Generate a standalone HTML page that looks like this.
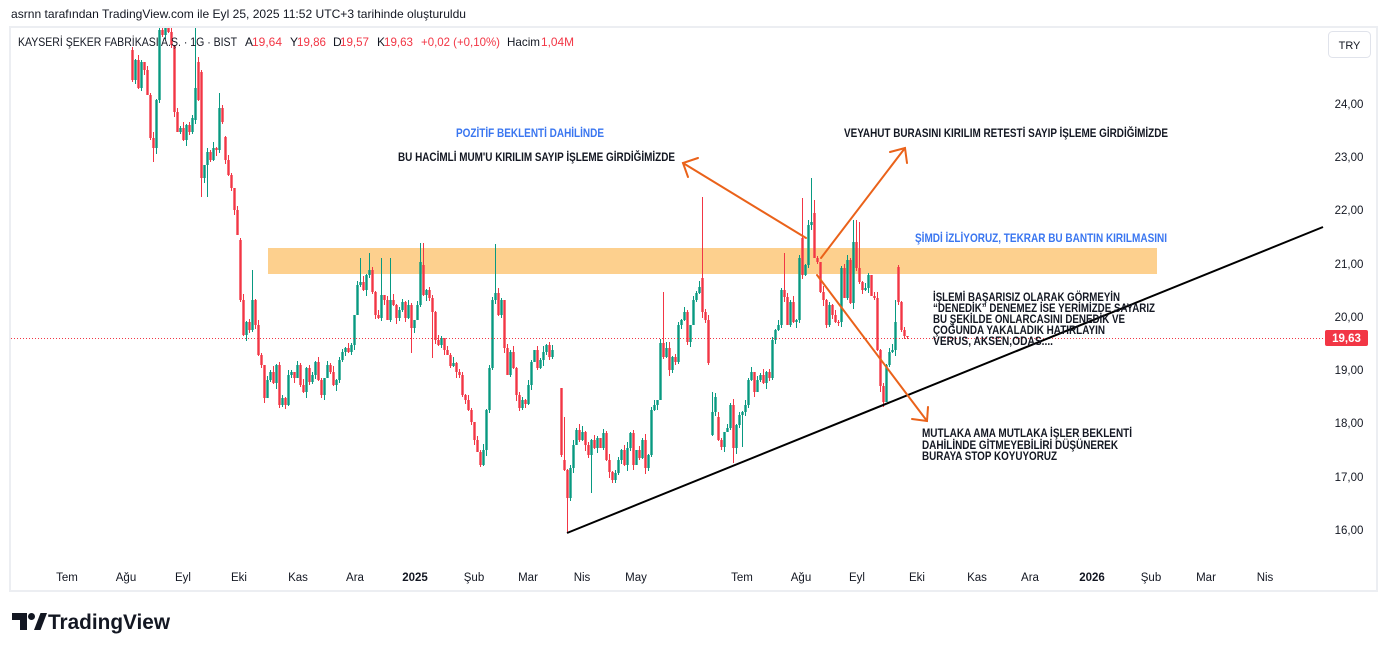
<!DOCTYPE html>
<html><head><meta charset="utf-8">
<style>html,body{margin:0;padding:0;background:#fff;overflow:hidden}svg{display:block}</style></head>
<body>
<svg width="1386" height="651" viewBox="0 0 1386 651" xmlns="http://www.w3.org/2000/svg" font-family="'Liberation Sans', sans-serif">
<defs><clipPath id="pane"><rect x="11" y="28" width="1307" height="537"/></clipPath></defs>
<rect width="1386" height="651" fill="#fff"/>
<text x="11" y="18" font-size="12" fill="#131722" textLength="455" lengthAdjust="spacingAndGlyphs">asrnn tarafından TradingView.com ile Eyl 25, 2025 11:52 UTC+3 tarihinde oluşturuldu</text>
<rect x="10" y="27" width="1367" height="564" fill="#fff" stroke="#eceef2" stroke-width="2"/>

<!-- band -->
<rect x="268" y="248" width="889" height="26" fill="#fdd08e"/>

<!-- candles -->
<g clip-path="url(#pane)" fill="none">
<path shape-rendering="crispEdges" stroke="#f23645" stroke-width="1" d="M132.5 47V82M138.5 55V89M144.5 62V75M147.5 66V95M150.5 93V140M153.5 132V162M162.5 20V37M168.5 20V33M171.5 20V48M174.5 45V117M177.5 108V132M183.5 122V141M189.5 122V135M198.5 57V101M201.5 70V197M210.5 150V162M216.5 147V156M222.5 105V124M225.5 136V164M228.5 155V176M231.5 173V191M234.5 188V215M237.5 206V235M240.5 238V302M243.5 294V336M249.5 319V333M255.5 299V329M258.5 320V356M261.5 353V368M264.5 365V403M273.5 366V384M279.5 362V408M285.5 397V409M294.5 372V383M300.5 363V387M303.5 379V393M309.5 365V385M318.5 357V381M321.5 378V398M330.5 363V374M333.5 366V386M348.5 343V353M363.5 276V291M372.5 267V294M375.5 291V319M378.5 310V319M384.5 295V305M387.5 296V320M393.5 294V306M396.5 304V324M405.5 301V322M411.5 303V353M423.5 243V296M429.5 287V301M432.5 295V358M435.5 311V344M438.5 335V346M444.5 338V355M447.5 346V355M450.5 353V368M456.5 362V378M459.5 369V378M462.5 372V397M465.5 394V404M468.5 395V411M471.5 408V425M474.5 422V445M477.5 436V452M480.5 450V467M498.5 288V316M504.5 300V353M507.5 344V375M513.5 346V369M516.5 367V401M519.5 392V411M525.5 399V408M537.5 346V370M549.5 342V360M561.5 388V457M564.5 417V471M567.5 469V533M579.5 424V442M585.5 431V451M588.5 442V458M594.5 435V449M600.5 438V448M606.5 431V461M609.5 454V478M612.5 471V483M624.5 445V466M633.5 430V470M639.5 446V460M645.5 434V474M663.5 292V359M669.5 342V376M675.5 354V365M687.5 310V345M702.5 197V318M705.5 309V323M708.5 315V365M718.5 412V441M721.5 438V450M733.5 399V463M754.5 372V397M763.5 369V384M769.5 369V381M784.5 253V302M787.5 293V325M793.5 296V323M802.5 198V279M814.5 200V258M817.5 256V264M820.5 262V293M823.5 286V306M826.5 299V328M832.5 304V319M835.5 310V323M838.5 320V326M844.5 264V298M850.5 258V304M856.5 220V271M859.5 222V284M862.5 281V294M871.5 275V296M874.5 292V300M877.5 292V351M880.5 349V392M883.5 383V407M898.5 265V305M901.5 301V332M904.5 327V339M907.5 336V339"/>
<path stroke="#f23645" stroke-width="2.4" d="M132.5 50V80M138.5 60V88M144.5 62V70M147.5 70V95M150.5 95V138M153.5 138V148M162.5 30V35M168.5 28V32M171.5 32V45M174.5 45V112M177.5 112V132M183.5 128V140M189.5 125V132M198.5 62V100M201.5 72V178M210.5 152V160M216.5 148V150M222.5 108V122M225.5 137V160M228.5 160V175M231.5 175V188M234.5 188V210M237.5 210V235M240.5 240V300M243.5 300V335M249.5 322V330M255.5 300V325M258.5 325V355M261.5 355V365M264.5 365V398M273.5 372V383M279.5 365V405M285.5 398V405M294.5 372V378M300.5 365V385M303.5 385V392M309.5 368V382M318.5 362V380M321.5 380V395M330.5 365V372M333.5 372V385M348.5 348V352M363.5 282V290M372.5 270V292M375.5 292V315M378.5 315V318M384.5 295V300M387.5 300V320M393.5 300V305M396.5 305V318M405.5 302V318M411.5 305V328M423.5 265V295M429.5 290V298M432.5 298V312M435.5 312V340M438.5 340V345M444.5 338V350M447.5 350V355M450.5 355V366M456.5 363V372M459.5 372V375M462.5 375V395M465.5 395V400M468.5 400V410M471.5 410V422M474.5 422V440M477.5 440V452M480.5 452V465M498.5 293V315M504.5 300V348M507.5 348V375M513.5 352V368M516.5 368V395M519.5 395V408M525.5 400V404M537.5 350V368M549.5 345V357M561.5 388V455M564.5 460V470M567.5 470V498M579.5 430V440M585.5 432V445M588.5 445V455M594.5 440V448M600.5 438V448M606.5 433V460M609.5 460V472M612.5 472V480M624.5 450V465M633.5 433V465M639.5 450V458M645.5 440V468M663.5 343V357M669.5 348V370M675.5 357V362M687.5 312V342M702.5 278V312M705.5 312V320M708.5 320V363M718.5 417V440M721.5 440V447M733.5 405V448M754.5 372V392M763.5 375V383M769.5 372V378M784.5 290V297M787.5 297V325M793.5 302V322M802.5 238V275M814.5 213V258M817.5 258V262M820.5 262V292M823.5 292V300M826.5 300V325M832.5 305V315M835.5 315V322M838.5 322V323M844.5 268V298M850.5 260V303M856.5 242V268M859.5 268V282M862.5 282V290M871.5 275V296M874.5 296V298M877.5 298V350M880.5 350V386M883.5 386V402M898.5 267V302M901.5 302V330M904.5 330V336M907.5 336V337"/>
<path shape-rendering="crispEdges" stroke="#089981" stroke-width="1" d="M135.5 59V84M141.5 60V91M156.5 99V154M159.5 20V103M165.5 20V39M180.5 126V134M186.5 124V146M192.5 115V134M195.5 20V124M204.5 165V183M207.5 148V197M213.5 142V161M219.5 93V153M246.5 321V341M252.5 270V332M267.5 376V398M270.5 370V382M276.5 364V389M282.5 395V407M288.5 370V406M291.5 370V378M297.5 361V378M306.5 367V398M312.5 372V384M315.5 361V379M324.5 378V400M327.5 361V378M336.5 379V391M339.5 357V383M342.5 349V362M345.5 347V356M351.5 343V355M354.5 315V350M357.5 281V315M360.5 258V287M366.5 274V296M369.5 253V278M381.5 258V321M390.5 258V322M399.5 307V321M402.5 299V312M408.5 300V319M414.5 320V333M417.5 301V320M420.5 243V307M426.5 289V301M441.5 336V348M453.5 357V367M483.5 444V466M486.5 409V456M489.5 365V413M492.5 297V370M495.5 244V304M501.5 298V318M510.5 350V377M522.5 397V410M528.5 380V405M531.5 360V390M534.5 350V362M540.5 358V369M543.5 346V366M546.5 344V355M552.5 345V359M570.5 465V501M573.5 440V473M576.5 428V445M582.5 426V441M591.5 439V493M597.5 436V453M603.5 429V450M615.5 470V483M618.5 457V475M621.5 449V464M627.5 442V471M630.5 432V451M636.5 450V465M642.5 438V459M648.5 454V471M651.5 407V457M654.5 400V411M657.5 400V410M660.5 339V400M666.5 342V358M672.5 356V373M678.5 322V364M681.5 319V329M684.5 307V321M690.5 325V347M693.5 296V325M696.5 291V302M699.5 281V294M712.5 392V436M715.5 393V416M724.5 432V452M727.5 424V432M730.5 403V430M736.5 424V454M739.5 412V428M742.5 411V447M745.5 400V416M748.5 378V408M751.5 367V381M757.5 376V392M760.5 373V382M766.5 371V389M772.5 337V380M775.5 329V344M778.5 320V331M781.5 288V328M790.5 300V327M796.5 319V328M799.5 255V323M805.5 264V276M808.5 220V268M811.5 178V230M829.5 302V327M841.5 266V327M847.5 255V300M853.5 220V309M865.5 283V291M868.5 273V293M886.5 364V402M889.5 348V367M892.5 344V353M895.5 300V356"/>
<path stroke="#089981" stroke-width="2.4" d="M135.5 60V80M141.5 62V88M156.5 100V148M159.5 30V100M165.5 28V35M180.5 128V132M186.5 125V140M192.5 118V132M195.5 88V120M204.5 165V178M207.5 152V165M213.5 148V160M219.5 108V150M246.5 322V335M252.5 300V330M267.5 380V398M270.5 372V380M276.5 365V383M282.5 398V405M288.5 375V405M291.5 372V375M297.5 365V378M306.5 368V392M312.5 375V382M315.5 362V375M324.5 378V395M327.5 365V378M336.5 380V385M339.5 360V380M342.5 352V360M345.5 348V352M351.5 345V352M354.5 315V345M357.5 285V315M360.5 282V285M366.5 275V290M369.5 270V275M381.5 295V318M390.5 300V320M399.5 310V318M402.5 302V310M408.5 305V318M414.5 320V328M417.5 305V320M420.5 262V305M426.5 290V295M441.5 338V345M453.5 363V366M483.5 450V465M486.5 410V450M489.5 368V410M492.5 300V368M495.5 293V300M501.5 300V315M510.5 352V375M522.5 400V408M528.5 385V404M531.5 362V385M534.5 350V362M540.5 360V368M543.5 352V360M546.5 345V352M552.5 350V357M570.5 468V498M573.5 445V468M576.5 430V445M582.5 432V440M591.5 440V455M597.5 438V448M603.5 433V448M615.5 473V480M618.5 460V473M621.5 450V460M627.5 448V465M630.5 433V448M636.5 450V465M642.5 440V458M648.5 455V468M651.5 410V455M654.5 405V410M657.5 400V405M660.5 343V400M666.5 348V357M672.5 357V370M678.5 325V362M681.5 320V325M684.5 312V320M690.5 325V342M693.5 300V325M696.5 293V300M699.5 287V293M712.5 412V435M715.5 397V412M724.5 432V447M727.5 428V432M730.5 405V428M736.5 425V448M739.5 415V425M742.5 412V415M745.5 405V412M748.5 380V405M751.5 372V380M757.5 380V392M760.5 375V380M766.5 372V383M772.5 340V378M775.5 330V340M778.5 325V330M781.5 290V325M790.5 302V325M796.5 320V322M799.5 258V320M805.5 265V275M808.5 225V265M811.5 222V225M829.5 305V325M841.5 268V322M847.5 260V298M853.5 242V303M865.5 288V290M868.5 275V288M886.5 365V402M889.5 352V365M892.5 350V352M895.5 322V350"/>
</g>

<!-- last price dotted line -->
<line x1="11" y1="338.5" x2="1325" y2="338.5" stroke="#f23645" stroke-width="1" stroke-dasharray="1,2"/>

<!-- trend line -->
<line x1="567" y1="533" x2="1323" y2="227" stroke="#000" stroke-width="2"/>

<!-- orange arrows -->
<g stroke="#ea621a" stroke-width="2" fill="none" stroke-linecap="round">
<line x1="806" y1="238" x2="683" y2="163"/>
<polyline points="698,158 683,163 688,177"/>
<line x1="821" y1="258" x2="905" y2="148"/>
<polyline points="890,152 905,148 907,163"/>
<line x1="817" y1="275" x2="927" y2="421"/>
<polyline points="912,419 927,421 928,407"/>
</g>

<!-- annotations -->
<g font-size="11.5" font-weight="bold">
<text x="456" y="137" fill="#3a76f0" textLength="148" lengthAdjust="spacingAndGlyphs">POZİTİF BEKLENTİ DAHİLİNDE</text>
<text x="398" y="161" fill="#131722" textLength="277" lengthAdjust="spacingAndGlyphs">BU HACİMLİ MUM'U KIRILIM SAYIP İŞLEME GİRDİĞİMİZDE</text>
<text x="844" y="137" fill="#131722" textLength="324" lengthAdjust="spacingAndGlyphs">VEYAHUT BURASINI KIRILIM RETESTİ SAYIP İŞLEME GİRDİĞİMİZDE</text>
<text x="915" y="242" fill="#3a76f0" textLength="252" lengthAdjust="spacingAndGlyphs">ŞİMDİ İZLİYORUZ, TEKRAR BU BANTIN KIRILMASINI</text>
<text x="933" y="301" fill="#131722" textLength="187" lengthAdjust="spacingAndGlyphs">İŞLEMİ BAŞARISIZ OLARAK GÖRMEYİN</text>
<text x="933" y="312" fill="#131722" textLength="222" lengthAdjust="spacingAndGlyphs">“DENEDİK” DENEMEZ İSE YERİMİZDE SAYARIZ</text>
<text x="933" y="323" fill="#131722" textLength="192" lengthAdjust="spacingAndGlyphs">BU ŞEKİLDE ONLARCASINI DENEDİK VE</text>
<text x="933" y="334" fill="#131722" textLength="172" lengthAdjust="spacingAndGlyphs">ÇOĞUNDA YAKALADIK HATIRLAYIN</text>
<text x="933" y="345" fill="#131722" textLength="120" lengthAdjust="spacingAndGlyphs">VERUS, AKSEN,ODAS....</text>
<text x="922" y="437" fill="#131722" textLength="210" lengthAdjust="spacingAndGlyphs">MUTLAKA AMA MUTLAKA İŞLER BEKLENTİ</text>
<text x="922" y="449" fill="#131722" textLength="196" lengthAdjust="spacingAndGlyphs">DAHİLİNDE GİTMEYEBİLİRİ DÜŞÜNEREK</text>
<text x="922" y="460" fill="#131722" textLength="135" lengthAdjust="spacingAndGlyphs">BURAYA STOP KOYUYORUZ</text>
</g>

<!-- chart header -->
<g font-size="12" fill="#131722">
<text x="18" y="46" textLength="219" lengthAdjust="spacingAndGlyphs">KAYSERİ ŞEKER FABRİKASI A.Ş. · 1G · BIST</text>
<text x="245" y="46">A</text><text x="252" y="46" fill="#f23645" textLength="30" lengthAdjust="spacingAndGlyphs">19,64</text>
<text x="290" y="46">Y</text><text x="297" y="46" fill="#f23645" textLength="29" lengthAdjust="spacingAndGlyphs">19,86</text>
<text x="333" y="46">D</text><text x="340" y="46" fill="#f23645" textLength="29" lengthAdjust="spacingAndGlyphs">19,57</text>
<text x="377" y="46">K</text><text x="384" y="46" fill="#f23645" textLength="29" lengthAdjust="spacingAndGlyphs">19,63</text>
<text x="421" y="46" fill="#f23645" textLength="79" lengthAdjust="spacingAndGlyphs">+0,02 (+0,10%)</text>
<text x="507" y="46" textLength="33" lengthAdjust="spacingAndGlyphs">Hacim</text>
<text x="541" y="46" fill="#f23645" textLength="33" lengthAdjust="spacingAndGlyphs">1,04M</text>
</g>

<!-- TRY button -->
<rect x="1328.5" y="31.5" width="42" height="26" rx="4" fill="#fff" stroke="#e0e3eb"/>
<text x="1349.5" y="49" font-size="11" fill="#131722" text-anchor="middle">TRY</text>

<!-- price axis -->
<g font-size="11.5" fill="#131722" text-anchor="middle">
<text x="1349" y="108">24,00</text>
<text x="1349" y="161">23,00</text>
<text x="1349" y="214">22,00</text>
<text x="1349" y="268">21,00</text>
<text x="1349" y="321">20,00</text>
<text x="1349" y="374">19,00</text>
<text x="1349" y="427">18,00</text>
<text x="1349" y="481">17,00</text>
<text x="1349" y="534">16,00</text>
</g>
<rect x="1325" y="330" width="43" height="16" rx="2" fill="#f23645"/>
<text x="1346.5" y="342" font-size="11.5" font-weight="bold" fill="#fff" text-anchor="middle">19,63</text>

<!-- time axis -->
<g font-size="11.5" fill="#131722" text-anchor="middle">
<text x="67" y="581">Tem</text>
<text x="126" y="581">Ağu</text>
<text x="183" y="581">Eyl</text>
<text x="239" y="581">Eki</text>
<text x="298" y="581">Kas</text>
<text x="355" y="581">Ara</text>
<text x="415" y="581" font-weight="bold">2025</text>
<text x="474" y="581">Şub</text>
<text x="528" y="581">Mar</text>
<text x="582" y="581">Nis</text>
<text x="636" y="581">May</text>
<text x="742" y="581">Tem</text>
<text x="801" y="581">Ağu</text>
<text x="857" y="581">Eyl</text>
<text x="917" y="581">Eki</text>
<text x="977" y="581">Kas</text>
<text x="1030" y="581">Ara</text>
<text x="1092" y="581" font-weight="bold">2026</text>
<text x="1151" y="581">Şub</text>
<text x="1206" y="581">Mar</text>
<text x="1265" y="581">Nis</text>
</g>

<!-- TradingView logo -->
<g fill="#131722">
<path d="M12 613 H27 V630 H20 V620 H12 Z"/>
<circle cx="31.5" cy="616.5" r="3.5"/>
<polygon points="34,630 40.5,613 47,613 40.5,630"/>
<text x="48" y="629" font-size="21" font-weight="bold" textLength="122" lengthAdjust="spacingAndGlyphs">TradingView</text>
</g>
</svg>
</body></html>
